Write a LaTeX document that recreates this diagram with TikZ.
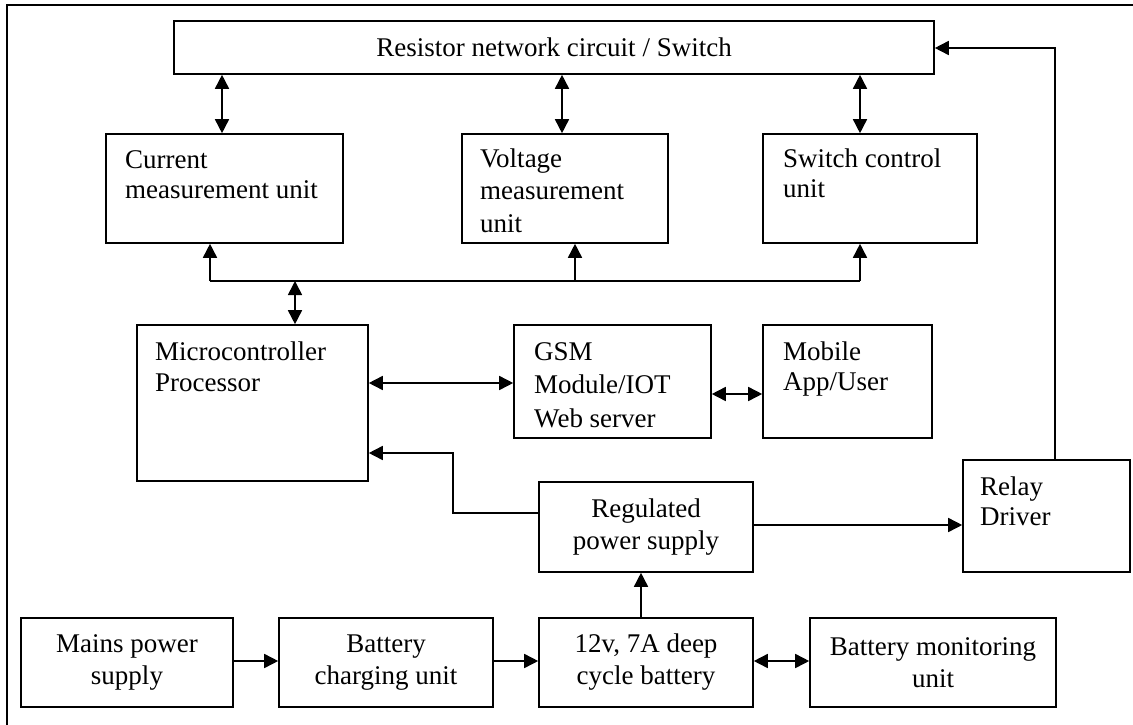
\documentclass[tikz,border=0pt]{standalone}
\usepackage{fontspec}
\setmainfont{Liberation Serif}
\usetikzlibrary{arrows.meta,calc}
\begin{document}
\begin{tikzpicture}[x=1pt,y=-1pt,
  lw/.style={line width=1.6pt},
  box/.style={draw, lw, rectangle, inner sep=0pt, anchor=center, align=center,
              font=\fontsize{27}{32}\selectfont},
  lbl/.style={anchor=base west, inner sep=0pt, align=left},
  arr/.style={lw, -{Triangle[length=14pt,width=14pt]}},
  bidir/.style={lw, {Triangle[length=14pt,width=14pt]}-{Triangle[length=14pt,width=14pt]}},
]
\useasboundingbox (0,0) rectangle (1133,725);
% frame
\draw[lw] (7,725) -- (7,5) -- (1133,5);

% boxes
\node[box, minimum width=760pt, minimum height=53pt] (res) at (554,47.5) {Resistor network circuit / Switch};
\node[box, minimum width=237pt, minimum height=109pt] (cur) at (224.5,188.5) {};
\node[box, minimum width=206pt, minimum height=109pt] (vol) at (565,188.5) {};
\node[box, minimum width=214pt, minimum height=109pt] (sw) at (870,188.5) {};
\node[box, minimum width=231pt, minimum height=156pt] (mic) at (252.5,403) {};
\node[box, minimum width=197pt, minimum height=113pt] (gsm) at (612.5,381.5) {};
\node[box, minimum width=169pt, minimum height=113pt] (mob) at (847.5,381.5) {};
\node[box, minimum width=214pt, minimum height=90pt] (reg) at (646,527) {Regulated\\power supply};
\node[box, minimum width=167pt, minimum height=112pt] (rel) at (1046.5,516) {};
\node[box, minimum width=212pt, minimum height=89pt] (mains) at (127,662.5) {Mains power\\supply};
\node[box, minimum width=214pt, minimum height=89pt] (chg) at (386,662.5) {Battery\\charging unit};
\node[box, minimum width=214pt, minimum height=89pt] (bat) at (646,662.5) {12v, 7A deep\\cycle battery};
\node[box, minimum width=246pt, minimum height=89pt] (mon) at (933,662.5) {Battery monitoring\\unit};

% left-aligned labels (anchored at the baseline of the last line)
\node[lbl, font=\fontsize{27}{30}\selectfont] (curT) at (125,198) {Current\\measurement unit};
\node[lbl, font=\fontsize{27}{32.5}\selectfont] (volT) at (480,232) {Voltage\\measurement\\unit};
\node[lbl, font=\fontsize{27}{30}\selectfont] (swT) at (783,197) {Switch control\\unit};
\node[lbl, font=\fontsize{27}{31.5}\selectfont] (micT) at (155,391.5) {Microcontroller\\Processor};
\node[lbl, font=\fontsize{27}{33.5}\selectfont] (gsmT) at (534,427) {GSM\\Module/IOT\\Web server};
\node[lbl, font=\fontsize{27}{30}\selectfont] (mobT) at (783,390) {Mobile\\App/User};
\node[lbl, font=\fontsize{27}{30}\selectfont] (relT) at (980,525) {Relay\\Driver};

% connectors: resistor network <-> units
\coordinate (c1) at (222,0);
\coordinate (c2) at (562,0);
\coordinate (c3) at (860,0);
\draw[bidir] (res.south -| c1) -- (cur.north -| c1);
\draw[bidir] (res.south -| c2) -- (vol.north -| c2);
\draw[bidir] (res.south -| c3) -- (sw.north -| c3);

% bus
\coordinate (b1) at (210,281);
\coordinate (b2) at (575,281);
\coordinate (b3) at (860,281);
\coordinate (b4) at (295,281);
\draw[lw] (b1) -- (b3);
\draw[arr] (b1) -- (cur.south -| b1);
\draw[arr] (b2) -- (vol.south -| b2);
\draw[arr] (b3) -- (sw.south -| b3);
\draw[bidir] (b4) -- (mic.north -| b4);

% micro <-> gsm <-> mobile
\coordinate (m1) at (0,383);
\coordinate (m2) at (0,394);
\draw[bidir] (mic.east |- m1) -- (gsm.west |- m1);
\draw[bidir] (gsm.east |- m2) -- (mob.west |- m2);

% regulated supply -> micro
\coordinate (p1) at (453,513);
\coordinate (p2) at (453,453);
\draw[arr, line join=miter] (reg.west |- p1) -- (p1) -- (p2) -- (mic.east |- p2);

% regulated -> relay
\coordinate (r1) at (0,525);
\draw[arr] (reg.east |- r1) -- (rel.west |- r1);

% battery -> regulated
\coordinate (r2) at (641,0);
\draw[arr] (bat.north -| r2) -- (reg.south -| r2);

% relay -> resistor network
\coordinate (r3) at (1055,48);
\draw[arr, line join=miter] (rel.north -| r3) -- (r3) -- (res.east |- r3);

% bottom row
\coordinate (h1) at (0,661);
\draw[arr] (mains.east |- h1) -- (chg.west |- h1);
\draw[arr] (chg.east |- h1) -- (bat.west |- h1);
\draw[bidir] (bat.east |- h1) -- (mon.west |- h1);
\end{tikzpicture}
\end{document}
